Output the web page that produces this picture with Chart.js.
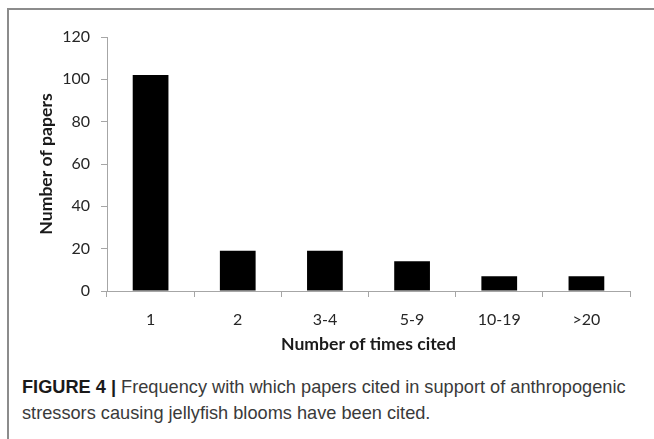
<!DOCTYPE html>
<html lang="en">
<head>
<meta charset="UTF-8">
<title>Figure 4</title>
<script src="https://cdn.jsdelivr.net/npm/chart.js"></script>
<style>
    body { margin: 0; background: #fff; }
    .figure { position: relative; width: 654px; height: 439px; overflow: hidden; }
    .frame { position: absolute; left: 7px; top: 8px; right: 0; bottom: 0;
             border-top: 2px solid #8c8c8c; border-left: 2px solid #8c8c8c; }
    #chart { position: absolute; left: 0; top: 0; }
    .caption { position: absolute; left: 22px; top: 374px; width: 630px;
               font-family: "Liberation Sans", Arial, sans-serif; font-size: 18.2px;
               line-height: 26px; color: #3a3a3a; white-space: nowrap; }
    .caption b { color: #1a1a1a; }
</style>
</head>
<body>
<div class="figure">
    <div class="frame"></div>
    <canvas id="chart" width="654" height="370"></canvas>
    <div class="caption"><b>FIGURE 4 |</b> Frequency with which papers cited in support of anthropogenic<br>stressors causing jellyfish blooms have been cited.</div>
</div>
<script>
const categories = ["1", "2", "3-4", "5-9", "10-19", ">20"];
const papers = [102, 19, 19, 14, 7, 7];
const yTicks = [0, 20, 40, 60, 80, 100, 120];

const axisFont = { family: "Lato, 'Open Sans', sans-serif", size: 16 };
const titleFont = { family: "Lato, 'Open Sans', sans-serif", size: 17.6, weight: "bold" };
const axisGrey = "#a6a6a6";

new Chart(document.getElementById("chart"), {
    type: "bar",
    data: {
        labels: categories,
        datasets: [{
            data: papers,
            backgroundColor: "#000",
            categoryPercentage: 1,
            barPercentage: 0.41
        }]
    },
    options: {
        responsive: false,
        animation: false,
        layout: { padding: { left: 27, right: 24, top: 37, bottom: 0 } },
        plugins: { legend: { display: false }, tooltip: { enabled: false } },
        scales: {
            x: {
                grid: { drawOnChartArea: false, drawTicks: true, tickLength: 6, color: axisGrey },
                border: { color: axisGrey, width: 1 },
                ticks: { color: "#262626", font: axisFont, padding: 13 },
                title: { display: true, text: "Number of times cited", color: "#1a1a1a",
                         font: titleFont, padding: { top: 0, bottom: 15 } },
                afterFit: s => { s.height = 79; }
            },
            y: {
                min: 0, max: 120,
                afterBuildTicks: s => { s.ticks = yTicks.map(v => ({ value: v })); },
                grid: { drawOnChartArea: false, drawTicks: true, tickLength: 6, color: axisGrey },
                border: { color: axisGrey, width: 1 },
                ticks: { color: "#262626", font: axisFont, padding: 11 },
                title: { display: true, text: "Number of papers", color: "#1a1a1a",
                         font: titleFont, padding: { top: 9, bottom: 0 } },
                afterFit: s => { s.width = 80; }
            }
        }
    }
});
</script>
</body>
</html>
